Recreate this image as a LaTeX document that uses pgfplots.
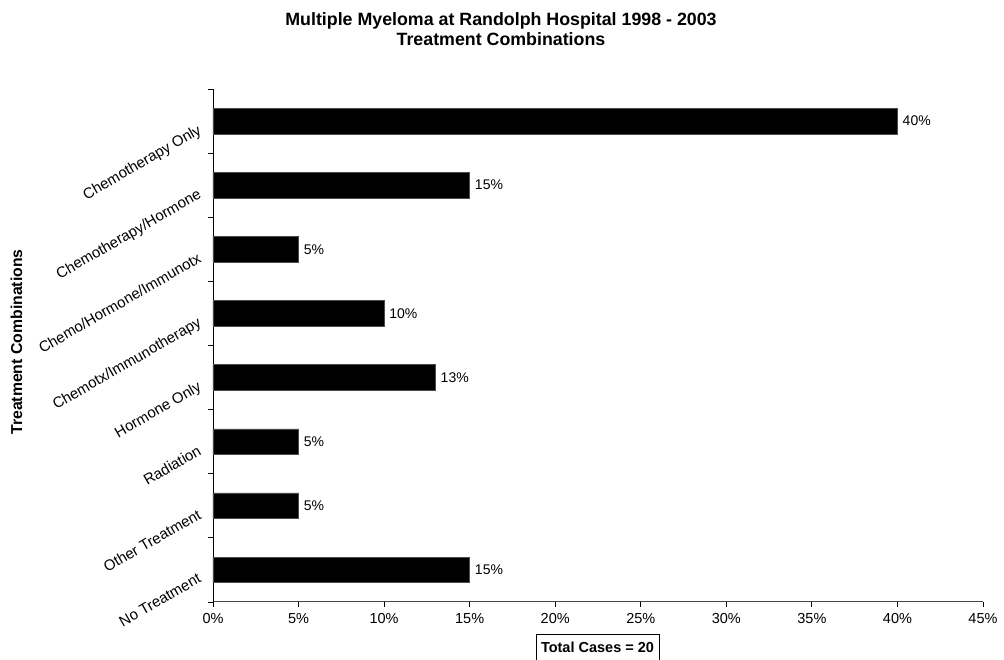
\documentclass[border=0pt]{standalone}
\usepackage{pgfplots}
\pgfplotsset{compat=1.18}
\usepackage{fontspec}
\setmainfont{Liberation Sans}
\begin{document}
\begin{tikzpicture}
\useasboundingbox (0,0) rectangle (1004pt,660pt);
% title
\node[anchor=base, font=\fontsize{17.8}{20}\selectfont\bfseries] at (501pt,634pt)
  {Multiple Myeloma at Randolph Hospital 1998 - 2003};
\node[anchor=base, font=\fontsize{17.8}{20}\selectfont\bfseries] at (501pt,614pt)
  {Treatment Combinations};
% y axis title
\node[anchor=base, rotate=90, font=\fontsize{15.8}{18}\selectfont\bfseries] at (22pt,318pt)
  {Treatment Combinations};
\begin{axis}[
  at={(213pt,58pt)}, anchor=south west,
  scale only axis, width=770pt, height=513pt,
  xbar, bar width=0.4,
  xmin=0, xmax=45, ymin=-0.5, ymax=7.5,
  axis x line*=bottom, axis y line*=left,
  x axis line style={gray!55!black, line width=1pt},
  y axis line style={black, line width=0.8pt},
  tick align=outside, major tick length=5pt,
  every tick/.style={black, line width=0.8pt},
  xtick={0,5,...,45},
  xticklabel={\pgfmathprintnumber{\tick}\%},
  xticklabel style={yshift=-3pt},
  /pgf/number format/assume math mode=true,
  ytick={-0.5,0.5,...,7.5},
  yticklabels={},
  extra y ticks={0,1,2,3,4,5,6,7},
  extra y tick labels={No Treatment, Other Treatment, Radiation, Hormone Only,
    Chemotx/Immunotherapy, Chemo/Hormone/Immunotx, Chemotherapy/Hormone, Chemotherapy Only},
  extra y tick style={major tick length=0pt,
    yticklabel style={xshift=-15pt, yshift=2pt, rotate=30, anchor=north east,
      font=\fontsize{15}{17}\selectfont}},
  ticklabel style={font=\fontsize{14.5}{16}\selectfont},
  nodes near coords={\pgfmathprintnumber{\pgfplotspointmeta}\%},
  nodes near coords style={anchor=west, inner sep=0pt, xshift=5pt,
    font=\fontsize{14}{16}\selectfont},
  point meta=explicit,
]
\addplot[fill=black, draw=gray!60!black, line width=0.6pt] coordinates {
  (15,0) [15]
  (5,1)  [5]
  (5,2)  [5]
  (13,3) [13]
  (10,4) [10]
  (5,5)  [5]
  (15,6) [15]
  (40,7) [40]
};
\end{axis}
% total cases box
\draw[black, line width=0.8pt] (536pt,-10pt) rectangle (659pt,26pt);
\node[anchor=base, font=\fontsize{14.5}{17}\selectfont\bfseries] at (597.5pt,7pt)
  {Total Cases = 20};
\end{tikzpicture}
\end{document}
